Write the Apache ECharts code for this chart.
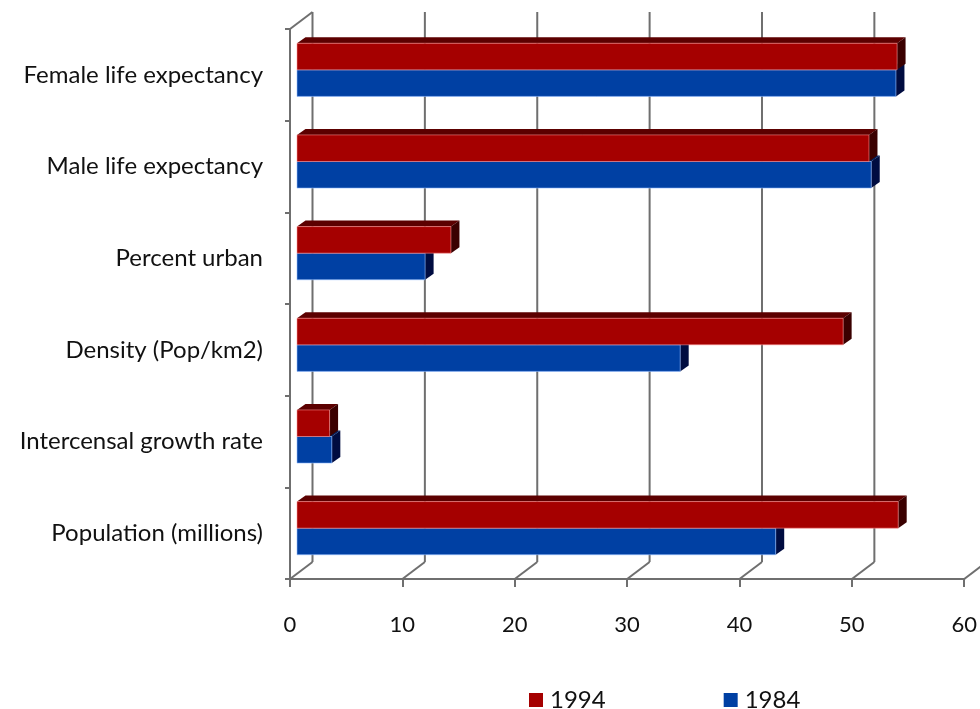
<!DOCTYPE html>
<html>
<head>
<meta charset="utf-8">
<title>Demographic indicators, 1984 and 1994</title>
<script src="https://cdn.jsdelivr.net/npm/echarts@6/dist/echarts.min.js"></script>
<style>
  html, body { margin: 0; padding: 0; background: #ffffff; }
  #chart { width: 980px; height: 709px; }
</style>
</head>
<body>
<div id="chart"></div>
<script>
// Categories, bottom to top
const categories = [
  'Population (millions)',
  'Intercensal growth rate',
  'Density (Pop/km2)',
  'Percent urban',
  'Male life expectancy',
  'Female life expectancy'
];
const values1994 = [53.5, 2.9, 48.6, 13.7, 50.9, 53.4];
const values1984 = [42.6, 3.1, 34.1, 11.4, 51.1, 53.3];
const xTicks = [0, 10, 20, 30, 40, 50, 60];

// Pseudo-3D geometry (pixels)
const WALL_DX = 22.5, WALL_DY = -17;   // depth of the chart box
const FACE_DX = 7, FACE_DY = -5;       // position of bar front faces inside the box
const BAR_DX = 8.5, BAR_DY = -6;       // depth of each bar
const BAR_FRAC = 0.29;                 // bar thickness as part of a category band

const GRID_COLOR = '#6f6f6f';

const palette = {
  '1994': { front: '#a50000', top: '#5c0000', side: '#3a0000', edge: 'rgba(255,150,150,0.55)' },
  '1984': { front: '#0040a3', top: '#002060', side: '#000c40', edge: 'rgba(150,190,255,0.6)' }
};

function barRenderer(name, slot) {
  const c = palette[name];
  return function (params, api) {
    const v = api.value(0), cat = api.value(1);
    const p0 = api.coord([0, cat]);
    const p1 = api.coord([v, cat]);
    const band = api.size([0, 1])[1];
    const h = band * BAR_FRAC;
    const x0 = p0[0] + FACE_DX;
    const x1 = p1[0] + FACE_DX;
    const yt = p0[1] + FACE_DY - h + slot * h;
    const yb = yt + h;
    return {
      type: 'group',
      children: [
        { type: 'polygon', shape: { points: [[x0, yt], [x0 + BAR_DX, yt + BAR_DY], [x1 + BAR_DX, yt + BAR_DY], [x1, yt]] },
          style: { fill: c.top } },
        { type: 'polygon', shape: { points: [[x1, yt], [x1 + BAR_DX, yt + BAR_DY], [x1 + BAR_DX, yb + BAR_DY], [x1, yb]] },
          style: { fill: c.side } },
        { type: 'rect', shape: { x: x0, y: yt, width: x1 - x0, height: h },
          style: { fill: c.front, stroke: c.edge, lineWidth: 1 } }
      ]
    };
  };
}

// Back wall, floor and left-wall edges of the chart box
function frameRenderer(params, api) {
  const v = api.value(0);
  const bottom = api.coord([v, 0]);
  const band = api.size([0, 1])[1];
  const yBottom = bottom[1] + band / 2;
  const yTop = yBottom - band * categories.length;
  const x = bottom[0];
  const children = [
    { type: 'line', shape: { x1: x, y1: yBottom, x2: x + WALL_DX, y2: yBottom + WALL_DY },
      style: { stroke: GRID_COLOR, lineWidth: 2 } },
    { type: 'line', shape: { x1: x + WALL_DX, y1: yBottom + WALL_DY, x2: x + WALL_DX, y2: yTop + WALL_DY },
      style: { stroke: GRID_COLOR, lineWidth: 2 } }
  ];
  if (v === xTicks[0]) {
    children.push({ type: 'line', shape: { x1: x, y1: yTop, x2: x + WALL_DX, y2: yTop + WALL_DY },
      style: { stroke: GRID_COLOR, lineWidth: 2 } });
  }
  return { type: 'group', children: children };
}

const chart = echarts.init(document.getElementById('chart'), null, { renderer: 'canvas' });

const FONT = 'Lato';
const TEXT_COLOR = '#111111';

chart.setOption({
  backgroundColor: '#ffffff',
  animation: false,
  grid: { left: 290, right: 14, top: 29, bottom: 130, containLabel: false },
  legend: {
    data: ['1994', '1984'],
    left: 524, top: 683,
    itemWidth: 14, itemHeight: 14, itemGap: 118,
    icon: 'rect',
    textStyle: { fontFamily: FONT, fontSize: 24, color: TEXT_COLOR, padding: [0, 0, 0, 2] }
  },
  xAxis: {
    type: 'value', min: 0, max: 60, interval: 10,
    axisLine: { show: true, lineStyle: { color: GRID_COLOR, width: 2 } },
    axisTick: { show: true, length: 8, lineStyle: { color: GRID_COLOR, width: 2 } },
    axisLabel: { fontFamily: FONT, fontSize: 22, color: TEXT_COLOR, margin: 35 },
    splitLine: { show: false }
  },
  yAxis: {
    type: 'category', data: categories,
    axisLine: { show: true, lineStyle: { color: GRID_COLOR, width: 2 } },
    axisTick: { show: true, length: 5, lineStyle: { color: GRID_COLOR, width: 2 } },
    axisLabel: { fontFamily: FONT, fontSize: 24, color: TEXT_COLOR, margin: 27 },
    splitLine: { show: false }
  },
  series: [
    {
      name: 'frame', type: 'custom', silent: true, clip: false, z: 1,
      renderItem: frameRenderer,
      data: xTicks.map(t => [t]),
      encode: { x: 0 }
    },
    {
      name: '1984', type: 'custom', clip: false, z: 2,
      itemStyle: { color: palette['1984'].front },
      renderItem: barRenderer('1984', 1),
      data: values1984.map((v, i) => [v, i]),
      encode: { x: 0, y: 1 }
    },
    {
      name: '1994', type: 'custom', clip: false, z: 3,
      itemStyle: { color: palette['1994'].front },
      renderItem: barRenderer('1994', 0),
      data: values1994.map((v, i) => [v, i]),
      encode: { x: 0, y: 1 }
    }
  ]
});
</script>
</body>
</html>
